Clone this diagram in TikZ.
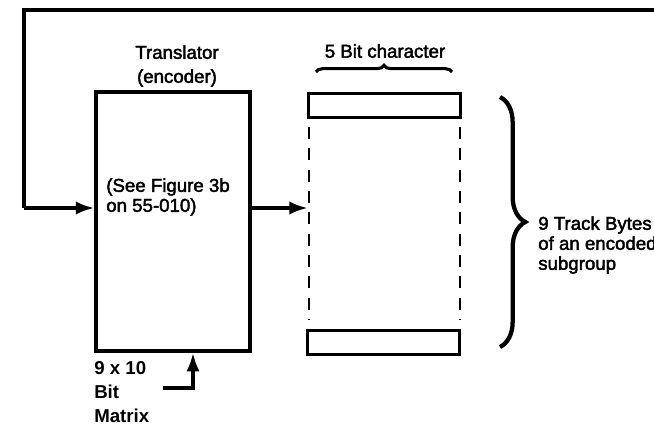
\documentclass[tikz,border=0pt]{standalone}
\usepackage{fontspec}
\setmainfont{Liberation Sans}
\newfontfamily\medfont{Liberation Sans}[FakeBold=2.2]
\usetikzlibrary{arrows.meta,decorations.pathreplacing,calc}
\begin{document}
\begin{tikzpicture}[x=0.75pt,y=-0.75pt,
  every node/.style={font=\medfont\fontsize{14}{18}\selectfont},
  bytebox/.style={draw=black,line width=2pt,minimum width=114pt,minimum height=18pt,inner sep=0pt},
  conn/.style={line width=2.6pt,-{Latex[length=14pt,width=10pt]}},
  dashline/.style={line width=1.9pt,dash pattern=on 9pt off 7pt},
  lbl/.style={inner sep=0pt,align=left}]
\useasboundingbox (0,0) rectangle (654,425);
% translator box
\node[draw=black,line width=2.8pt,minimum width=115pt,minimum height=194pt,inner sep=0pt] (trans) at (173,221.5) {};
% byte boxes
\node[bytebox] (byte1) at (384.5,105.5) {};
\node[bytebox] (byte9) at (383.5,342.5) {};
% dashed sides
\draw[dashline] ($(byte1.south west)+(2,8)$) -- ($(byte9.north west)+(3,-10)$);
\draw[dashline] ($(byte1.south east)+(-2,8)$) -- ($(byte9.north east)+(-1,-10)$);
% labels
\node[align=center,inner sep=0pt] (tlab) at (177,66) {Translator\\(encoder)};
\node[inner sep=0pt] (blab) at (385,51) {5 Bit character};
\node[lbl,anchor=west,font=\medfont\fontsize{14}{15}\selectfont] (see) at (106,197) {(See Figure 3b\\on 55-010)};
\node[lbl,anchor=west,font=\medfont\fontsize{14}{15}\selectfont] (track) at (538,245) {9 Track Bytes\\of an encoded\\subgroup};
\node[lbl,anchor=north west,font=\bfseries\fontsize{14}{18}\selectfont] (mat) at (94,361) {9 x 10\\Bit\\Matrix};
% braces
\draw[line width=2.3pt,decorate,decoration={brace,amplitude=5pt}] (316,72) -- (452,72);
\draw[line width=3.2pt,decorate,decoration={brace,amplitude=19pt}] (500,97) -- (500,347);
% feedback connector
\coordinate (fstart) at (660,10);
\coordinate (fcorner) at (24,10);
\coordinate (fin) at (24,208);
\draw[line width=2.4pt] (fstart) -- (fcorner) -- (fin);
\draw[conn] (fin) -- (fin -| trans.west);
% output connector
\coordinate (oin) at (trans.east |- fin);
\coordinate (oend) at (308,208);
\draw[conn] (oin) -- (oend);
% matrix input
\coordinate (mstart) at (163,388);
\coordinate (mbend) at (193,388);
\draw[conn] (mstart) -- (mbend) -- (mbend |- trans.south);
\end{tikzpicture}
\end{document}
